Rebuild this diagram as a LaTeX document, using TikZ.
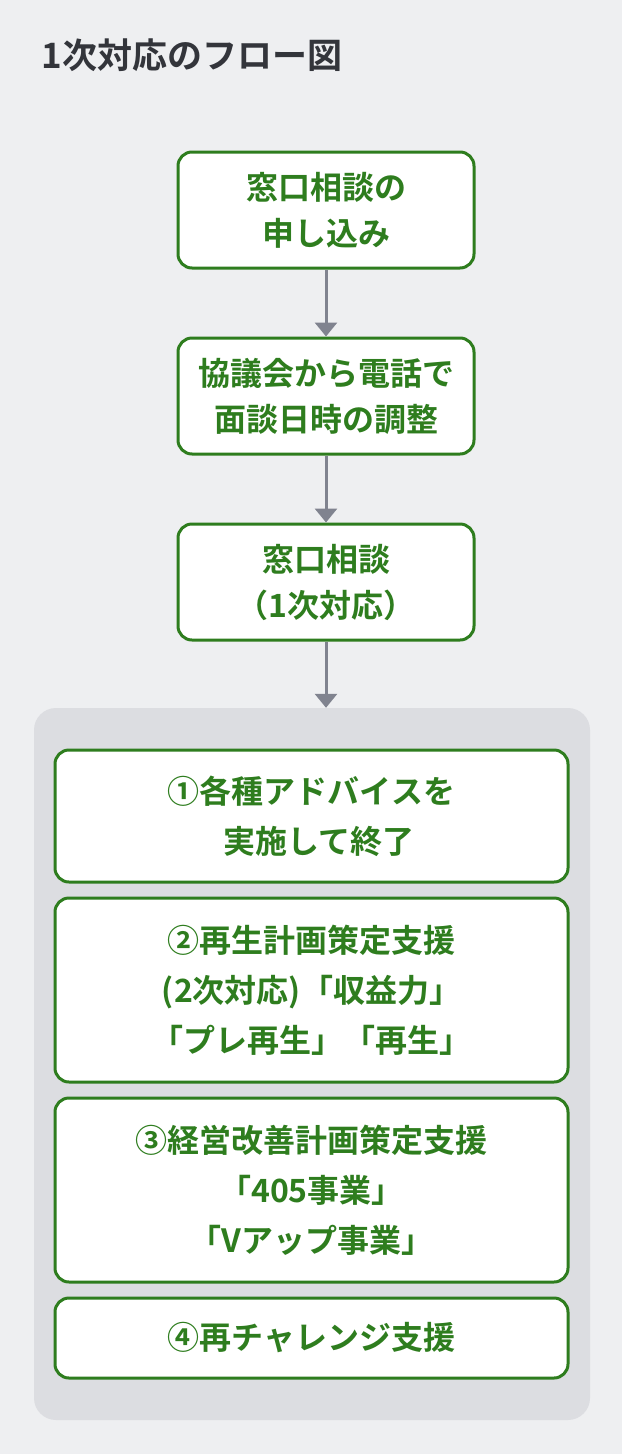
\documentclass[tikz,border=0pt]{standalone}
\usepackage{fontspec}
\setmainfont{Noto Sans CJK JP}[BoldFont={Noto Sans CJK JP Bold}]
\usetikzlibrary{arrows.meta}
\definecolor{bg}{HTML}{EEEFF1}
\definecolor{panel}{HTML}{DCDDE1}
\definecolor{grn}{HTML}{2E7D1E}
\definecolor{arr}{HTML}{80838F}
\definecolor{ttl}{HTML}{33353B}
\begin{document}
\begin{tikzpicture}[x=1pt,y=-1pt,
  box/.style={draw=grn,line width=3pt,fill=white,rounded corners=14pt,text=grn,font=\fontsize{32}{46}\selectfont\bfseries,align=center,inner sep=0pt},
  ibox/.style={box,font=\fontsize{32}{50}\selectfont\bfseries},
  con/.style={draw=arr,line width=3pt,-{Triangle[length=14pt,width=22pt]}}]
\fill[bg] (0,0) rectangle (622,1454);
\useasboundingbox (0,0) rectangle (622,1454);
\node[anchor=west,text=ttl,font=\fontsize{35}{40}\selectfont\bfseries] (title) at (38,55) {1次対応のフロー図};
\node[box,minimum width=296pt,minimum height=116pt] (a) at (326,210) {窓口相談の\\申し込み};
\node[box,minimum width=296pt,minimum height=116pt] (b) at (326,396) {協議会から電話で\\面談日時の調整};
\node[box,minimum width=296pt,minimum height=116pt] (c) at (326,582) {窓口相談\\（1次対応）};
\node[fill=panel,rounded corners=22pt,minimum width=556pt,minimum height=712pt,inner sep=0pt] (p) at (312,1064) {};
\node[ibox,minimum width=513pt,minimum height=132pt] (d1) at (311.5,816) {①各種アドバイスを\\\ \ 実施して終了};
\node[ibox,minimum width=513pt,minimum height=184pt] (d2) at (311.5,990) {②再生計画策定支援\\(2次対応)「収益力」\\「プレ再生」「再生」};
\node[ibox,minimum width=513pt,minimum height=184pt] (d3) at (311.5,1190) {③経営改善計画策定支援\\「405事業」\\「Vアップ事業」};
\node[ibox,minimum width=513pt,minimum height=80pt] (d4) at (311.5,1338) {④再チャレンジ支援};
\draw[con] (a.south) -- (b.north);
\draw[con] (b.south) -- (c.north);
\draw[con] (c.south) -- (c.south |- p.north);
\end{tikzpicture}
\end{document}
